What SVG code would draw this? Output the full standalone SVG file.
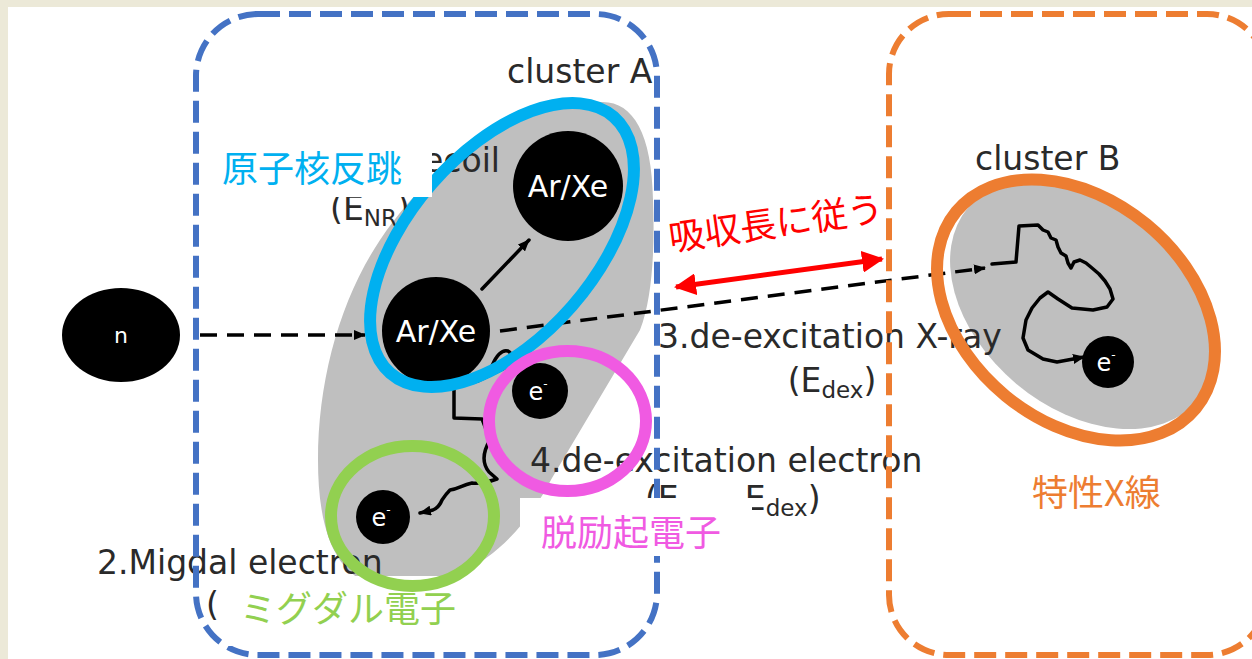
<svg xmlns="http://www.w3.org/2000/svg" width="1252" height="659" viewBox="0 0 1252 659">
  <style>
    .lbl { font-family: "DejaVu Sans", Verdana, sans-serif; font-size: 33px; fill: #2a2a2a; }
    .ptxt { font-family: "DejaVu Sans", Verdana, sans-serif; fill: #ffffff; text-anchor: middle; }
    .jp { font-family: "Noto Sans CJK JP", "Noto Sans", sans-serif; font-size: 36px; }
    .particle { fill: #000000; }
    .track { fill: none; stroke: #000000; stroke-width: 3.5; stroke-linejoin: round; stroke-linecap: round; }
    .ray { fill: none; stroke: #000000; stroke-width: 3.5; stroke-dasharray: 17 10; }
    .frame { fill: none; stroke-width: 6; stroke-dasharray: 22 9; }
    .ring { fill: none; stroke-width: 12; }
    .cloud { fill: #bfbfbf; }
    .mask { fill: #ffffff; }
  </style>
  <defs>
    <marker id="head" viewBox="0 0 12 10" refX="11" refY="5" markerWidth="12" markerHeight="10" markerUnits="userSpaceOnUse" orient="auto">
      <path d="M0,0 L12,5 L0,10 z" fill="#000000"/>
    </marker>
    <marker id="redhead" viewBox="0 0 22 22" refX="20" refY="11" markerWidth="22" markerHeight="22" markerUnits="userSpaceOnUse" orient="auto-start-reverse">
      <path d="M0,0 L22,11 L0,22 z" fill="#ff0000"/>
    </marker>
  </defs>

  <!-- page -->
  <rect x="0" y="0" width="1252" height="659" fill="#ece9d8"/>
  <rect x="8" y="7" width="1244" height="652" fill="#ffffff"/>

  <!-- interaction regions -->
  <path class="cloud" d="M600,102 C632,100 652,132 653,200 C655,250 652,300 640,330 L552,478 C520,540 470,585 400,588 C340,590 318,540 318,460 C318,380 340,300 380,240 C420,180 480,130 540,110 C560,104 580,102 600,102 Z"/>
  <ellipse class="cloud" cx="1083" cy="304" rx="150" ry="104" transform="rotate(40 1083 304)"/>

  <!-- labels -->
  <g id="labels">
    <text class="lbl" x="507" y="83">cluster A</text>
    <text class="lbl" x="975" y="170">cluster B</text>
    <text class="lbl" x="500" y="172" text-anchor="end">1.Nuclear recoil</text>
    <text class="lbl" x="370" y="220" text-anchor="middle">(E<tspan font-size="23" dy="6">NR</tspan><tspan dy="-6">)</tspan></text>
    <text class="lbl" x="658" y="348">3.de-excitation X-ray</text>
    <text class="lbl" x="832" y="392" text-anchor="middle">(E<tspan font-size="23" dy="6">dex</tspan><tspan dy="-6">)</tspan></text>
    <text class="lbl" x="530" y="472">4.de-excitation electron</text>
    <text class="lbl" x="645" y="510">(E<tspan font-size="23" dy="6">NR</tspan><tspan dy="-6"> - E</tspan><tspan font-size="23" dy="6">dex</tspan><tspan dy="-6">)</tspan></text>
    <text class="lbl" x="97" y="574">2.Migdal electron</text>
    <text class="lbl" x="206" y="616">(</text>
  </g>

  <!-- connectors -->
  <g id="connectors">
    <line class="ray" x1="200" y1="335" x2="365" y2="335" marker-end="url(#head)"/>
    <line class="track" x1="482" y1="289" x2="529" y2="240" marker-end="url(#head)"/>
    <line class="ray" x1="500" y1="331" x2="985" y2="268" marker-end="url(#head)"/>
    <polyline class="track" marker-end="url(#head)" points="992,264 1016,262 1019,226 1038,225 1043,230 1048,232 1051,238 1056,240 1058,247 1061,253 1066,256 1068,263 1071,268 1074,262 1080,260 1086,263 1092,268 1099,274 1105,281 1110,289 1113,299 1107,307 1093,310 1072,308 1058,299 1048,292 1040,298 1032,308 1026,320 1023,338 1028,350 1043,359 1057,362 1084,357"/>
    <path class="track" marker-end="url(#head)" d="M492 366 C496 356 502 349 508 351 C514 354 511 362 505 368 L478 381 L454 386 L454 418 L482 419 L490 440 C484 450 481 462 489 472 L497 479 C488 482 480 484 472 483 C462 485 458 489 450 490 C446 494 444 497 442 500 C440 505 438 508 433 510 L420 513"/>
    <line x1="676" y1="287" x2="882" y2="259" stroke="#ff0000" stroke-width="5" marker-start="url(#redhead)" marker-end="url(#redhead)"/>
  </g>

  <!-- particles -->
  <g id="neutron">
    <ellipse class="particle" cx="121" cy="335" rx="59" ry="47"/>
    <text class="ptxt" x="121" y="343" font-size="22">n</text>
  </g>
  <g id="recoil-atom">
    <circle class="particle" cx="436" cy="331" r="54"/>
    <text class="ptxt" x="436" y="342" font-size="30">Ar/Xe</text>
  </g>
  <g id="recoil-atom-moved">
    <circle class="particle" cx="568" cy="186" r="55"/>
    <text class="ptxt" x="568" y="197" font-size="30">Ar/Xe</text>
  </g>
  <g id="deexcitation-electron">
    <circle class="particle" cx="540" cy="391" r="28"/>
    <text class="ptxt" x="538" y="400" font-size="24">e<tspan font-size="12" dy="-12">-</tspan></text>
  </g>
  <g id="migdal-electron">
    <circle class="particle" cx="383" cy="517" r="27"/>
    <text class="ptxt" x="381" y="526" font-size="24">e<tspan font-size="12" dy="-12">-</tspan></text>
  </g>
  <g id="photo-electron">
    <circle class="particle" cx="1108" cy="362" r="26"/>
    <text class="ptxt" x="1106" y="371" font-size="24">e<tspan font-size="12" dy="-12">-</tspan></text>
  </g>

  <!-- clusters -->
  <g id="cluster-a">
    <rect class="frame" x="196" y="14" width="461" height="641" rx="62" stroke="#4472c4"/>
  </g>
  <g id="cluster-b">
    <rect class="frame" x="889" y="14" width="378" height="641" rx="60" stroke="#ed7d31"/>
  </g>

  <!-- highlights -->
  <g id="nuclear-recoil">
    <ellipse class="ring" cx="502" cy="245" rx="170" ry="93" transform="rotate(-48.9 502 245)" stroke="#00b0f0"/>
    <rect class="mask" x="218" y="140" width="214" height="57"/>
    <text class="jp" x="222" y="182" font-size="37" fill="#00b0f0">原子核反跳</text>
  </g>
  <g id="deexcitation">
    <ellipse class="ring" cx="567.5" cy="421" rx="78.5" ry="70" stroke="#f05ae2"/>
    <rect class="mask" x="520" y="498" width="232" height="58"/>
    <text class="jp" x="541" y="546" fill="#f05ae2">脱励起電子</text>
  </g>
  <g id="migdal">
    <rect class="mask" x="225" y="576" width="240" height="70"/>
    <ellipse class="ring" cx="412.5" cy="516" rx="81.5" ry="70" stroke="#92d050"/>
    <text class="jp" x="240" y="622" fill="#92d050">ミグダル電子</text>
  </g>
  <g id="characteristic-xray">
    <ellipse class="ring" cx="1076" cy="310" rx="155" ry="111" transform="rotate(39.4 1076 310)" stroke="#ed7d31" stroke-width="14"/>
    <text class="jp" x="1032" y="506" fill="#ed7d31">特性X線</text>
  </g>
  <g id="absorption-length">
    <text class="jp" x="776" y="236" text-anchor="middle" fill="#ff0000" transform="rotate(-8 776 224)">吸収長に従う</text>
  </g>
</svg>
